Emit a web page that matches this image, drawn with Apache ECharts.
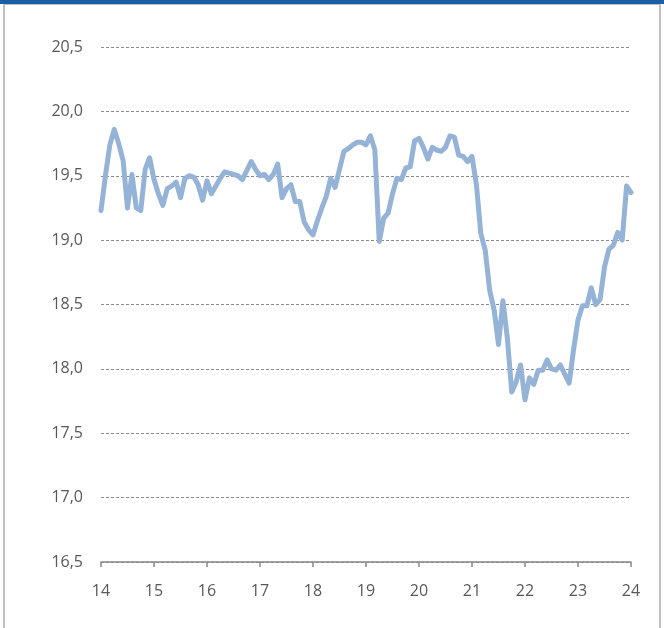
<!DOCTYPE html>
<html>
<head>
<meta charset="utf-8">
<script src="https://cdn.jsdelivr.net/npm/echarts@6/dist/echarts.min.js"></script>
<style>
html,body{margin:0;padding:0;background:#fff;}
#chart{width:664px;height:628px;}
</style>
</head>
<body>
<div id="chart"></div>
<script>
// Monthly values, Jan 2014 .. Jan 2024
const startYear = 14;
const values = [
  19.23,19.50,19.74,19.86,19.75,19.62,19.25,19.51,19.25,19.23,19.55,19.64,
  19.47,19.36,19.27,19.40,19.42,19.45,19.33,19.48,19.50,19.49,19.43,19.31,
  19.46,19.36,19.42,19.48,19.53,19.52,19.51,19.50,19.47,19.54,19.61,19.55,
  19.50,19.51,19.47,19.51,19.59,19.33,19.40,19.43,19.30,19.30,19.14,19.08,
  19.04,19.15,19.25,19.34,19.48,19.41,19.55,19.69,19.71,19.74,19.76,19.76,
  19.74,19.81,19.70,18.99,19.17,19.21,19.36,19.48,19.47,19.56,19.57,19.77,
  19.79,19.72,19.63,19.72,19.70,19.69,19.72,19.81,19.80,19.66,19.65,19.61,
  19.65,19.43,19.05,18.92,18.61,18.46,18.19,18.53,18.24,17.82,17.90,18.03,
  17.76,17.93,17.88,17.99,17.99,18.07,18.00,17.99,18.03,17.96,17.89,18.15,
  18.38,18.49,18.49,18.63,18.50,18.54,18.79,18.93,18.96,19.06,19.00,19.42,
  19.37
];
const xTicks = [14,15,16,17,18,19,20,21,22,23,24];
const yTicks = [16.5,17.0,17.5,18.0,18.5,19.0,19.5,20.0,20.5];

const seriesData = values.map((v, i) => [startYear + i / 12, v]);
const font = '"Open Sans", Lato, sans-serif';

const chart = echarts.init(document.getElementById('chart'), null, {renderer: 'canvas'});
chart.setOption({
  animation: false,
  backgroundColor: '#ffffff',
  grid: {left: 101, right: 33, top: 47, bottom: 66},
  xAxis: {
    type: 'value',
    min: xTicks[0], max: xTicks[xTicks.length - 1], interval: 1,
    axisLine: {show: true, lineStyle: {color: '#868686', width: 1.5}},
    axisTick: {show: true, length: 5, lineStyle: {color: '#868686', width: 1.5}},
    axisLabel: {color: '#595959', fontSize: 16, fontFamily: font, margin: 21,
      formatter: v => String(v)},
    splitLine: {show: false}
  },
  yAxis: {
    type: 'value',
    min: yTicks[0], max: yTicks[yTicks.length - 1], interval: 0.5,
    axisLine: {show: false},
    axisTick: {show: false},
    axisLabel: {color: '#595959', fontSize: 16, fontFamily: font, margin: 18,
      formatter: v => v.toFixed(1).replace('.', ',')},
    splitLine: {show: true, lineStyle: {color: '#8c8c8c', width: 1, type: [3, 2]}}
  },
  series: [{
    type: 'line',
    data: seriesData,
    showSymbol: false,
    lineStyle: {color: '#95b3d7', width: 5, join: 'round', cap: 'round'},
    z: 3
  }],
  graphic: [
    {type: 'rect', shape: {x: 0, y: 0, width: 664, height: 4}, style: {fill: '#1c5fa8'}, z: 10},
    {type: 'rect', shape: {x: 3, y: 4, width: 658, height: 1}, style: {fill: '#c0c0c0'}, z: 10},
    {type: 'rect', shape: {x: 3, y: 4, width: 2, height: 624}, style: {fill: '#c0c0c0'}, z: 10},
    {type: 'rect', shape: {x: 659, y: 4, width: 2, height: 624}, style: {fill: '#c0c0c0'}, z: 10}
  ]
});
</script>
</body>
</html>
